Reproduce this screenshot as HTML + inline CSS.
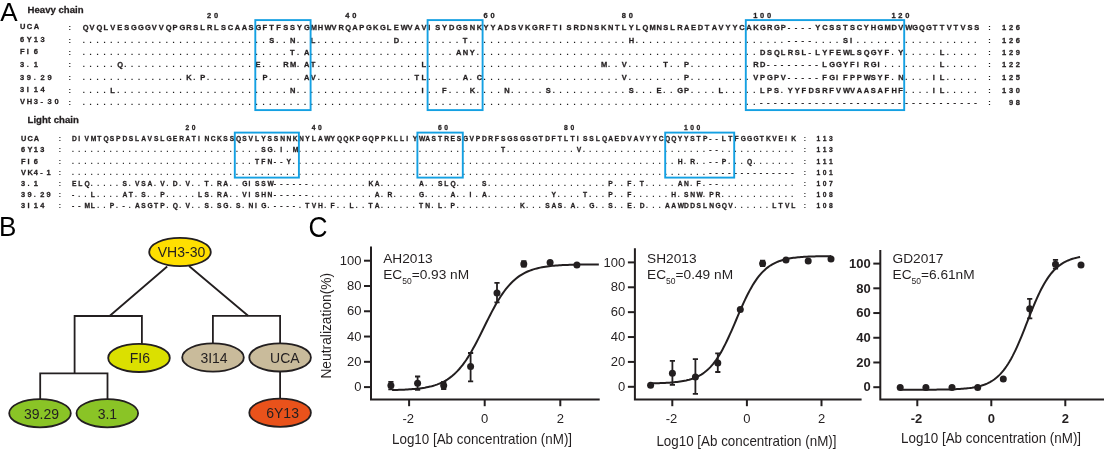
<!DOCTYPE html>
<html><head><meta charset="utf-8"><style>
html,body{margin:0;padding:0;background:#fff;overflow:hidden;}
svg{display:block;will-change:transform;font-family:"Liberation Sans",sans-serif;}
.d{fill:#1a1a1a;stroke:#1a1a1a;stroke-width:0.12;}
</style></head><body>
<svg width="1107" height="452" viewBox="0 0 1107 452">
<rect width="1107" height="452" fill="#fff"/>
<g font-weight="bold" fill="#231f20" stroke="#231f20" stroke-width="0.28">
<text x="207.12 214.03 345.36 352.27 483.6 490.51 621.84 628.75 753.16 760.08 766.99 891.4 898.32 905.23" y="18.4" font-size="7.5" transform="matrix(1 0 0 1.03 0 -0.552)">20406080100120</text>
<text x="82.7 89.61 96.52 103.44 110.35 117.26 124.17 131.08 138 144.91 151.82 158.73 165.64 172.56 179.47 186.38 193.29 200.2 207.12 214.03 220.94 227.85 234.76 241.68 248.59 255.5 262.41 269.32 276.24 283.15 290.06 296.97 303.88 310.8 317.71 324.62 331.53 338.44 345.36 352.27 359.18 366.09 373 379.92 386.83 393.74 400.65 407.56 414.48 421.39 428.3 435.21 442.12 449.04 455.95 462.86 469.77 476.68 483.6 490.51 497.42 504.33 511.24 518.16 525.07 531.98 538.89 545.8 552.72 559.63 566.54 573.45 580.36 587.28 594.19 601.1 608.01 614.92 621.84 628.75 635.66 642.57 649.48 656.4 663.31 670.22 677.13 684.04 690.96 697.87 704.78 711.69 718.6 725.52 732.43 739.34 746.25 753.16 760.08 766.99 773.9 780.81 787.72 794.64 801.55 808.46 815.37 822.28 829.2 836.11 843.02 849.93 856.84 863.76 870.67 877.58 884.49 891.4 898.32 905.23 912.14 919.05 925.96 932.88 939.79 946.7 953.61 960.52 967.44 974.35 1002 1008.91 1015.82" y="30.4" font-size="7.5" transform="matrix(1 0 0 1.03 0 -0.912)">QVQLVESGGGVVQPGRSLRLSCAASGFTFSSYGMHWVRQAPGKGLEWVAVISYDGSNKYYADSVKGRFTISRDNSKNTLYLQMNSLRAEDTAVYYCAKGRGP----YCSSTSCYHGMDVWGQGTTVTVSS126</text><text class="d" x="988.17" y="30.4" font-size="7.5" transform="matrix(1 0 0 1.03 0 -0.912)">:</text>
<text x="19.9 26.8 33.7" y="28.6" font-size="7.5">UCA</text>
<text class="d" x="68.6" y="30.4" font-size="7.5" transform="matrix(1 0 0 1.03 0 -0.912)">:</text>
<text x="269.32 290.06 310.8 393.74 462.86 628.75 787.72 794.64 801.55 808.46 843.02 849.93 1002 1008.91 1015.82" y="42.9" font-size="7.5" transform="matrix(1 0 0 1.03 0 -1.287)">SNLDTH----SI126</text><text class="d" x="82.7 89.61 96.52 103.44 110.35 117.26 124.17 131.08 138 144.91 151.82 158.73 165.64 172.56 179.47 186.38 193.29 200.2 207.12 214.03 220.94 227.85 234.76 241.68 248.59 255.5 262.41 276.24 283.15 296.97 303.88 317.71 324.62 331.53 338.44 345.36 352.27 359.18 366.09 373 379.92 386.83 400.65 407.56 414.48 421.39 428.3 435.21 442.12 449.04 455.95 469.77 476.68 483.6 490.51 497.42 504.33 511.24 518.16 525.07 531.98 538.89 545.8 552.72 559.63 566.54 573.45 580.36 587.28 594.19 601.1 608.01 614.92 621.84 635.66 642.57 649.48 656.4 663.31 670.22 677.13 684.04 690.96 697.87 704.78 711.69 718.6 725.52 732.43 739.34 746.25 753.16 760.08 766.99 773.9 780.81 815.37 822.28 829.2 836.11 856.84 863.76 870.67 877.58 884.49 891.4 898.32 905.23 912.14 919.05 925.96 932.88 939.79 946.7 953.61 960.52 967.44 974.35 988.17" y="42.9" font-size="7.5" transform="matrix(1 0 0 1.03 0 -1.287)">......................................................................................................................:</text>
<text x="19.9 26.8 33.7 40.6" y="41.6" font-size="7.5">6Y13</text>
<text class="d" x="68.6" y="42.9" font-size="7.5" transform="matrix(1 0 0 1.03 0 -1.287)">:</text>
<text x="290.06 303.88 455.95 462.86 469.77 760.08 766.99 773.9 780.81 787.72 794.64 801.55 808.46 815.37 822.28 829.2 836.11 843.02 849.93 856.84 863.76 870.67 877.58 884.49 898.32 939.79 1002 1008.91 1015.82" y="55.1" font-size="7.5" transform="matrix(1 0 0 1.03 0 -1.653)">TAANYDSQLRSL-LYFEWLSQGYFYL129</text><text class="d" x="82.7 89.61 96.52 103.44 110.35 117.26 124.17 131.08 138 144.91 151.82 158.73 165.64 172.56 179.47 186.38 193.29 200.2 207.12 214.03 220.94 227.85 234.76 241.68 248.59 255.5 262.41 269.32 276.24 283.15 296.97 310.8 317.71 324.62 331.53 338.44 345.36 352.27 359.18 366.09 373 379.92 386.83 393.74 400.65 407.56 414.48 421.39 428.3 435.21 442.12 449.04 476.68 483.6 490.51 497.42 504.33 511.24 518.16 525.07 531.98 538.89 545.8 552.72 559.63 566.54 573.45 580.36 587.28 594.19 601.1 608.01 614.92 621.84 628.75 635.66 642.57 649.48 656.4 663.31 670.22 677.13 684.04 690.96 697.87 704.78 711.69 718.6 725.52 732.43 739.34 746.25 753.16 891.4 905.23 912.14 919.05 925.96 932.88 946.7 953.61 960.52 967.44 974.35 988.17" y="55.1" font-size="7.5" transform="matrix(1 0 0 1.03 0 -1.653)">........................................................................................................:</text>
<text x="19.9 26.8 33.7" y="54.4" font-size="7.5">FI6</text>
<text class="d" x="68.6" y="55.1" font-size="7.5" transform="matrix(1 0 0 1.03 0 -1.653)">:</text>
<text x="117.26 255.5 283.15 290.06 303.88 310.8 421.39 601.1 621.84 663.31 684.04 753.16 760.08 766.99 773.9 780.81 787.72 794.64 801.55 808.46 815.37 822.28 829.2 836.11 843.02 849.93 856.84 863.76 870.67 877.58 939.79 1002 1008.91 1015.82" y="67.1" font-size="7.5" transform="matrix(1 0 0 1.03 0 -2.013)">QERMATLMVTPRD--------LGGYFIRGIL122</text><text class="d" x="82.7 89.61 96.52 103.44 110.35 124.17 131.08 138 144.91 151.82 158.73 165.64 172.56 179.47 186.38 193.29 200.2 207.12 214.03 220.94 227.85 234.76 241.68 248.59 262.41 269.32 276.24 296.97 317.71 324.62 331.53 338.44 345.36 352.27 359.18 366.09 373 379.92 386.83 393.74 400.65 407.56 414.48 428.3 435.21 442.12 449.04 455.95 462.86 469.77 476.68 483.6 490.51 497.42 504.33 511.24 518.16 525.07 531.98 538.89 545.8 552.72 559.63 566.54 573.45 580.36 587.28 594.19 608.01 614.92 628.75 635.66 642.57 649.48 656.4 670.22 677.13 690.96 697.87 704.78 711.69 718.6 725.52 732.43 739.34 746.25 884.49 891.4 898.32 905.23 912.14 919.05 925.96 932.88 946.7 953.61 960.52 967.44 974.35 988.17" y="67.1" font-size="7.5" transform="matrix(1 0 0 1.03 0 -2.013)">...................................................................................................:</text>
<text x="19.9 33.7" y="67.2" font-size="7.5">31</text><text class="d" x="26.8" y="67.2" font-size="7.5">.</text>
<text class="d" x="68.6" y="67.1" font-size="7.5" transform="matrix(1 0 0 1.03 0 -2.013)">:</text>
<text x="186.38 200.2 262.41 303.88 310.8 414.48 421.39 462.86 476.68 621.84 684.04 753.16 760.08 766.99 773.9 780.81 787.72 794.64 801.55 808.46 815.37 822.28 829.2 836.11 843.02 849.93 856.84 863.76 870.67 877.58 884.49 898.32 932.88 939.79 1002 1008.91 1015.82" y="80" font-size="7.5" transform="matrix(1 0 0 1.03 0 -2.400)">KPPAVTLACVPVPGPV-----FGIFPPWSYFNIL125</text><text class="d" x="82.7 89.61 96.52 103.44 110.35 117.26 124.17 131.08 138 144.91 151.82 158.73 165.64 172.56 179.47 193.29 207.12 214.03 220.94 227.85 234.76 241.68 248.59 255.5 269.32 276.24 283.15 290.06 296.97 317.71 324.62 331.53 338.44 345.36 352.27 359.18 366.09 373 379.92 386.83 393.74 400.65 407.56 428.3 435.21 442.12 449.04 455.95 469.77 483.6 490.51 497.42 504.33 511.24 518.16 525.07 531.98 538.89 545.8 552.72 559.63 566.54 573.45 580.36 587.28 594.19 601.1 608.01 614.92 628.75 635.66 642.57 649.48 656.4 663.31 670.22 677.13 690.96 697.87 704.78 711.69 718.6 725.52 732.43 739.34 746.25 891.4 905.23 912.14 919.05 925.96 946.7 953.61 960.52 967.44 974.35 988.17" y="80" font-size="7.5" transform="matrix(1 0 0 1.03 0 -2.400)">................................................................................................:</text>
<text x="19.9 26.8 40.6 47.5" y="79.8" font-size="7.5">3929</text><text class="d" x="33.7" y="79.8" font-size="7.5">.</text>
<text class="d" x="68.6" y="80" font-size="7.5" transform="matrix(1 0 0 1.03 0 -2.400)">:</text>
<text x="110.35 290.06 421.39 442.12 469.77 504.33 545.8 628.75 656.4 677.13 684.04 718.6 760.08 766.99 773.9 787.72 794.64 801.55 808.46 815.37 822.28 829.2 836.11 843.02 849.93 856.84 863.76 870.67 877.58 884.49 891.4 898.32 932.88 939.79 1002 1008.91 1015.82" y="92.7" font-size="7.5" transform="matrix(1 0 0 1.03 0 -2.781)">LNIFKNSSEGPLLPSYYFDSRFVWVAASAFHFIL130</text><text class="d" x="82.7 89.61 96.52 103.44 117.26 124.17 131.08 138 144.91 151.82 158.73 165.64 172.56 179.47 186.38 193.29 200.2 207.12 214.03 220.94 227.85 234.76 241.68 248.59 255.5 262.41 269.32 276.24 283.15 296.97 303.88 310.8 317.71 324.62 331.53 338.44 345.36 352.27 359.18 366.09 373 379.92 386.83 393.74 400.65 407.56 414.48 428.3 435.21 449.04 455.95 462.86 476.68 483.6 490.51 497.42 511.24 518.16 525.07 531.98 538.89 552.72 559.63 566.54 573.45 580.36 587.28 594.19 601.1 608.01 614.92 621.84 635.66 642.57 649.48 663.31 670.22 690.96 697.87 704.78 711.69 725.52 732.43 739.34 746.25 753.16 780.81 905.23 912.14 919.05 925.96 946.7 953.61 960.52 967.44 974.35 988.17" y="92.7" font-size="7.5" transform="matrix(1 0 0 1.03 0 -2.781)">................................................................................................:</text>
<text x="19.9 26.8 33.7 40.6" y="91.8" font-size="7.5">3I14</text>
<text class="d" x="68.6" y="92.7" font-size="7.5" transform="matrix(1 0 0 1.03 0 -2.781)">:</text>
<text x="760.08 766.99 773.9 780.81 787.72 794.64 801.55 808.46 815.37 822.28 829.2 836.11 843.02 849.93 856.84 863.76 870.67 877.58 884.49 891.4 898.32 905.23 912.14 919.05 925.96 932.88 939.79 946.7 953.61 960.52 967.44 974.35 1008.91 1015.82" y="104.7" font-size="7.5" transform="matrix(1 0 0 1.03 0 -3.141)">--------------------------------98</text><text class="d" x="82.7 89.61 96.52 103.44 110.35 117.26 124.17 131.08 138 144.91 151.82 158.73 165.64 172.56 179.47 186.38 193.29 200.2 207.12 214.03 220.94 227.85 234.76 241.68 248.59 255.5 262.41 269.32 276.24 283.15 290.06 296.97 303.88 310.8 317.71 324.62 331.53 338.44 345.36 352.27 359.18 366.09 373 379.92 386.83 393.74 400.65 407.56 414.48 421.39 428.3 435.21 442.12 449.04 455.95 462.86 469.77 476.68 483.6 490.51 497.42 504.33 511.24 518.16 525.07 531.98 538.89 545.8 552.72 559.63 566.54 573.45 580.36 587.28 594.19 601.1 608.01 614.92 621.84 628.75 635.66 642.57 649.48 656.4 663.31 670.22 677.13 684.04 690.96 697.87 704.78 711.69 718.6 725.52 732.43 739.34 746.25 753.16 988.17" y="104.7" font-size="7.5" transform="matrix(1 0 0 1.03 0 -3.141)">..................................................................................................:</text>
<text x="19.9 26.8 33.7 40.6 47.5 54.4" y="104.4" font-size="7.5">VH3-30</text>
<text class="d" x="68.6" y="104.7" font-size="7.5" transform="matrix(1 0 0 1.03 0 -3.141)">:</text>
<text x="185.48 191.79 311.68 317.99 437.88 444.19 564.08 570.39 683.97 690.28 696.59" y="130.2" font-size="6.7">20406080100</text>
<text x="71.9 78.21 84.52 90.83 97.14 103.45 109.76 116.07 122.38 128.69 135 141.31 147.62 153.93 160.24 166.55 172.86 179.17 185.48 191.79 198.1 204.41 210.72 217.03 223.34 229.65 235.96 242.27 248.58 254.89 261.2 267.51 273.82 280.13 286.44 292.75 299.06 305.37 311.68 317.99 324.3 330.61 336.92 343.23 349.54 355.85 362.16 368.47 374.78 381.09 387.4 393.71 400.02 406.33 412.64 418.95 425.26 431.57 437.88 444.19 450.5 456.81 463.12 469.43 475.74 482.05 488.36 494.67 500.98 507.29 513.6 519.91 526.22 532.53 538.84 545.15 551.46 557.77 564.08 570.39 576.7 583.01 589.32 595.63 601.94 608.25 614.56 620.87 627.18 633.49 639.8 646.11 652.42 658.73 665.04 671.35 677.66 683.97 690.28 696.59 702.9 709.21 715.52 721.83 728.14 734.45 740.76 747.07 753.38 759.69 766 772.31 778.62 784.93 791.24 816.48 822.79 829.1" y="141.3" font-size="6.7">DIVMTQSPDSLAVSLGERATINCKSSQSVLYSSNNKNYLAWYQQKPGQPPKLLIYWASTRESGVPDRFSGSGSGTDFTLTISSLQAEDVAVYYCQQYYSTP--LTFGGGTKVEIK113</text><text class="d" x="803.86" y="141.3" font-size="6.7">:</text>
<text x="21 27.4 33.8" y="141.2" font-size="7.4" transform="matrix(1 0 0 1.02 0 -2.824)">UCA</text>
<text class="d" x="58.8" y="141.3" font-size="6.7">:</text>
<text x="261.2 267.51 280.13 292.75 500.98 576.7 709.21 715.52 816.48 822.79 829.1" y="152" font-size="6.7">SGIMTV--113</text><text class="d" x="71.9 78.21 84.52 90.83 97.14 103.45 109.76 116.07 122.38 128.69 135 141.31 147.62 153.93 160.24 166.55 172.86 179.17 185.48 191.79 198.1 204.41 210.72 217.03 223.34 229.65 235.96 242.27 248.58 254.89 273.82 286.44 299.06 305.37 311.68 317.99 324.3 330.61 336.92 343.23 349.54 355.85 362.16 368.47 374.78 381.09 387.4 393.71 400.02 406.33 412.64 418.95 425.26 431.57 437.88 444.19 450.5 456.81 463.12 469.43 475.74 482.05 488.36 494.67 507.29 513.6 519.91 526.22 532.53 538.84 545.15 551.46 557.77 564.08 570.39 583.01 589.32 595.63 601.94 608.25 614.56 620.87 627.18 633.49 639.8 646.11 652.42 658.73 665.04 671.35 677.66 683.97 690.28 696.59 702.9 721.83 728.14 734.45 740.76 747.07 753.38 759.69 766 772.31 778.62 784.93 791.24 803.86" y="152" font-size="6.7">...........................................................................................................:</text>
<text x="21 27.4 33.8 40.2" y="152" font-size="7.4" transform="matrix(1 0 0 1.02 0 -3.040)">6Y13</text>
<text class="d" x="58.8" y="152" font-size="6.7">:</text>
<text x="254.89 261.2 267.51 273.82 280.13 286.44 677.66 690.28 709.21 715.52 721.83 747.07 816.48 822.79 829.1" y="163.5" font-size="6.7">TFN--YHR--PQ111</text><text class="d" x="71.9 78.21 84.52 90.83 97.14 103.45 109.76 116.07 122.38 128.69 135 141.31 147.62 153.93 160.24 166.55 172.86 179.17 185.48 191.79 198.1 204.41 210.72 217.03 223.34 229.65 235.96 242.27 248.58 292.75 299.06 305.37 311.68 317.99 324.3 330.61 336.92 343.23 349.54 355.85 362.16 368.47 374.78 381.09 387.4 393.71 400.02 406.33 412.64 418.95 425.26 431.57 437.88 444.19 450.5 456.81 463.12 469.43 475.74 482.05 488.36 494.67 500.98 507.29 513.6 519.91 526.22 532.53 538.84 545.15 551.46 557.77 564.08 570.39 576.7 583.01 589.32 595.63 601.94 608.25 614.56 620.87 627.18 633.49 639.8 646.11 652.42 658.73 665.04 671.35 683.97 696.59 702.9 728.14 734.45 740.76 753.38 759.69 766 772.31 778.62 784.93 791.24 803.86" y="163.5" font-size="6.7">.......................................................................................................:</text>
<text x="21 27.4 33.8" y="163.6" font-size="7.4" transform="matrix(1 0 0 1.02 0 -3.272)">FI6</text>
<text class="d" x="58.8" y="163.5" font-size="6.7">:</text>
<text x="709.21 715.52 721.83 728.14 734.45 740.76 747.07 753.38 759.69 766 772.31 778.62 784.93 791.24 816.48 822.79 829.1" y="174.6" font-size="6.7">--------------101</text><text class="d" x="71.9 78.21 84.52 90.83 97.14 103.45 109.76 116.07 122.38 128.69 135 141.31 147.62 153.93 160.24 166.55 172.86 179.17 185.48 191.79 198.1 204.41 210.72 217.03 223.34 229.65 235.96 242.27 248.58 254.89 261.2 267.51 273.82 280.13 286.44 292.75 299.06 305.37 311.68 317.99 324.3 330.61 336.92 343.23 349.54 355.85 362.16 368.47 374.78 381.09 387.4 393.71 400.02 406.33 412.64 418.95 425.26 431.57 437.88 444.19 450.5 456.81 463.12 469.43 475.74 482.05 488.36 494.67 500.98 507.29 513.6 519.91 526.22 532.53 538.84 545.15 551.46 557.77 564.08 570.39 576.7 583.01 589.32 595.63 601.94 608.25 614.56 620.87 627.18 633.49 639.8 646.11 652.42 658.73 665.04 671.35 677.66 683.97 690.28 696.59 702.9 803.86" y="174.6" font-size="6.7">.....................................................................................................:</text>
<text x="21 27.4 33.8 40.2 46.6" y="174.9" font-size="7.4" transform="matrix(1 0 0 1.02 0 -3.498)">VK4-1</text>
<text class="d" x="58.8" y="174.6" font-size="6.7">:</text>
<text x="71.9 78.21 84.52 122.38 135 141.31 147.62 160.24 172.86 185.48 204.41 217.03 223.34 242.27 248.58 254.89 261.2 267.51 273.82 280.13 286.44 292.75 299.06 305.37 368.47 374.78 418.95 437.88 444.19 450.5 482.05 608.25 627.18 639.8 677.66 683.97 696.59 709.21 715.52 816.48 822.79 829.1" y="185.8" font-size="6.7">ELQSVSAVDVTRAGISSW------KAASLQSPFTANF--107</text><text class="d" x="90.83 97.14 103.45 109.76 116.07 128.69 153.93 166.55 179.17 191.79 198.1 210.72 229.65 235.96 311.68 317.99 324.3 330.61 336.92 343.23 349.54 355.85 362.16 381.09 387.4 393.71 400.02 406.33 412.64 425.26 431.57 456.81 463.12 469.43 475.74 488.36 494.67 500.98 507.29 513.6 519.91 526.22 532.53 538.84 545.15 551.46 557.77 564.08 570.39 576.7 583.01 589.32 595.63 601.94 614.56 620.87 633.49 646.11 652.42 658.73 665.04 671.35 690.28 702.9 721.83 728.14 734.45 740.76 747.07 753.38 759.69 766 772.31 778.62 784.93 791.24 803.86" y="185.8" font-size="6.7">............................................................................:</text>
<text x="21 33.8" y="186.1" font-size="7.4" transform="matrix(1 0 0 1.02 0 -3.722)">31</text><text class="d" x="27.4" y="186.1" font-size="7.4" transform="matrix(1 0 0 1.02 0 -3.722)">.</text>
<text class="d" x="58.8" y="185.8" font-size="6.7">:</text>
<text x="71.9 90.83 122.38 128.69 141.31 160.24 198.1 204.41 217.03 223.34 242.27 248.58 254.89 261.2 267.51 273.82 280.13 286.44 292.75 299.06 305.37 374.78 387.4 418.95 450.5 469.43 482.05 551.46 583.01 608.25 627.18 671.35 683.97 690.28 696.59 709.21 715.52 816.48 822.79 829.1" y="197" font-size="6.7">-LATSPLSRAVISHN------ARGAIAYTPFHSNWPR108</text><text class="d" x="78.21 84.52 97.14 103.45 109.76 116.07 135 147.62 153.93 166.55 172.86 179.17 185.48 191.79 210.72 229.65 235.96 311.68 317.99 324.3 330.61 336.92 343.23 349.54 355.85 362.16 368.47 381.09 393.71 400.02 406.33 412.64 425.26 431.57 437.88 444.19 456.81 463.12 475.74 488.36 494.67 500.98 507.29 513.6 519.91 526.22 532.53 538.84 545.15 557.77 564.08 570.39 576.7 589.32 595.63 601.94 614.56 620.87 633.49 639.8 646.11 652.42 658.73 665.04 677.66 702.9 721.83 728.14 734.45 740.76 747.07 753.38 759.69 766 772.31 778.62 784.93 791.24 803.86" y="197" font-size="6.7">..............................................................................:</text>
<text x="21 27.4 40.2 46.6" y="197.4" font-size="7.4" transform="matrix(1 0 0 1.02 0 -3.948)">3929</text><text class="d" x="33.8" y="197.4" font-size="7.4" transform="matrix(1 0 0 1.02 0 -3.948)">.</text>
<text class="d" x="58.8" y="197" font-size="6.7">:</text>
<text x="71.9 78.21 84.52 90.83 109.76 122.38 135 141.31 147.62 153.93 160.24 172.86 185.48 204.41 217.03 223.34 235.96 248.58 254.89 261.2 273.82 280.13 286.44 292.75 305.37 311.68 317.99 330.61 349.54 368.47 374.78 418.95 425.26 437.88 450.5 519.91 545.15 551.46 557.77 570.39 589.32 608.25 627.18 639.8 665.04 671.35 677.66 683.97 690.28 696.59 702.9 709.21 715.52 721.83 728.14 772.31 778.62 784.93 791.24 816.48 822.79 829.1" y="208.2" font-size="6.7">--MLP-ASGTPQVSSGSNIG----TVHFLTATNLPKSASAGSEDAAWDDSLNGQVLTVL108</text><text class="d" x="97.14 103.45 116.07 128.69 166.55 179.17 191.79 198.1 210.72 229.65 242.27 267.51 299.06 324.3 336.92 343.23 355.85 362.16 381.09 387.4 393.71 400.02 406.33 412.64 431.57 444.19 456.81 463.12 469.43 475.74 482.05 488.36 494.67 500.98 507.29 513.6 526.22 532.53 538.84 564.08 576.7 583.01 595.63 601.94 614.56 620.87 633.49 646.11 652.42 658.73 734.45 740.76 747.07 753.38 759.69 766 803.86" y="208.2" font-size="6.7">........................................................:</text>
<text x="21 27.4 33.8 40.2" y="208.5" font-size="7.4" transform="matrix(1 0 0 1.02 0 -4.170)">3I14</text>
<text class="d" x="58.8" y="208.2" font-size="6.7">:</text>
<text x="27.6" y="13.5" font-size="9.6" transform="matrix(1 0 0 1.02 0 -0.27)">Heavy chain</text>
<text x="27.6" y="122.8" font-size="9.6" transform="matrix(1 0 0 1.02 0 -2.456)">Light chain</text>
</g>
<rect x="255.3" y="20.1" width="55.3" height="90" fill="none" stroke="#14a0e2" stroke-width="1.9"/>
<rect x="427.6" y="20.1" width="55" height="90" fill="none" stroke="#14a0e2" stroke-width="1.9"/>
<rect x="745.8" y="20.1" width="158.4" height="90" fill="none" stroke="#14a0e2" stroke-width="1.9"/>
<rect x="234.8" y="132.6" width="64.1" height="45" fill="none" stroke="#14a0e2" stroke-width="1.9"/>
<rect x="417.4" y="132.6" width="45.4" height="45" fill="none" stroke="#14a0e2" stroke-width="1.9"/>
<rect x="665.2" y="132.6" width="69" height="45" fill="none" stroke="#14a0e2" stroke-width="1.9"/>
<text x="0.3" y="21" font-size="26" fill="#000">A</text>
<g>
<text x="-1" y="236.1" font-size="26" fill="#000" transform="matrix(1 0 0 1.04 0 -9.444)">B</text>
<path d="M167.2 266.5 L109.6 316 M189 266 L248.1 315.7" stroke="#231f20" stroke-width="1.8" fill="none"/>
<path d="M74.6 373.5 V316 H141.9 V344" stroke="#231f20" stroke-width="1.8" fill="none"/>
<path d="M40.2 399 V373.4 H107.5 V399" stroke="#231f20" stroke-width="1.8" fill="none"/>
<path d="M212.9 343.5 V315.8 H280.1 V343.5 M280.1 371 V399" stroke="#231f20" stroke-width="1.8" fill="none"/>
<ellipse cx="180" cy="252" rx="30.8" ry="14.1" fill="#ffdf00" stroke="#231f20" stroke-width="1.8"/><text x="181.5" y="256.8" font-size="14" text-anchor="middle" fill="#231f20">VH3-30</text>
<ellipse cx="139" cy="357.9" rx="30.8" ry="14.1" fill="#dbe000" stroke="#231f20" stroke-width="1.8"/><text x="139.9" y="363.1" font-size="14" text-anchor="middle" fill="#231f20">FI6</text>
<ellipse cx="213" cy="357.5" rx="30.8" ry="14.1" fill="#c9bb9b" stroke="#231f20" stroke-width="1.8"/><text x="214" y="363.1" font-size="14" text-anchor="middle" fill="#231f20">3I14</text>
<ellipse cx="280.1" cy="357.4" rx="30.8" ry="14.1" fill="#c9bb9b" stroke="#231f20" stroke-width="1.8"/><text x="284.9" y="363.2" font-size="14" text-anchor="middle" fill="#231f20">UCA</text>
<ellipse cx="40" cy="413.2" rx="30.8" ry="14.1" fill="#8ac426" stroke="#231f20" stroke-width="1.8"/><text x="41.5" y="418.5" font-size="14" text-anchor="middle" fill="#231f20">39.29</text>
<ellipse cx="107.3" cy="413.2" rx="30.8" ry="14.1" fill="#8ac426" stroke="#231f20" stroke-width="1.8"/><text x="107.4" y="418.5" font-size="14" text-anchor="middle" fill="#231f20">3.1</text>
<ellipse cx="280.1" cy="412.7" rx="30.8" ry="14.1" fill="#e9521b" stroke="#231f20" stroke-width="1.8"/><text x="282.6" y="418.4" font-size="14" text-anchor="middle" fill="#231f20">6Y13</text>
</g>
<g fill="#231f20">
<text x="308.6" y="236.6" font-size="26.3" fill="#000" transform="matrix(1 0 0 1.13 0 -30.758)">C</text>
<path d="M371 247.6 V399.6 H598.7" stroke="#231f20" stroke-width="2.0" fill="none" stroke-linecap="square"/>
<path d="M364 387.1 H371" stroke="#231f20" stroke-width="2.0" fill="none"/>
<text x="361.4" y="391.3" font-size="13" text-anchor="end">0</text>
<path d="M364 361.82 H371" stroke="#231f20" stroke-width="2.0" fill="none"/>
<text x="361.4" y="366.02" font-size="13" text-anchor="end">20</text>
<path d="M364 336.54 H371" stroke="#231f20" stroke-width="2.0" fill="none"/>
<text x="361.4" y="340.74" font-size="13" text-anchor="end">40</text>
<path d="M364 311.26 H371" stroke="#231f20" stroke-width="2.0" fill="none"/>
<text x="361.4" y="315.46" font-size="13" text-anchor="end">60</text>
<path d="M364 285.98 H371" stroke="#231f20" stroke-width="2.0" fill="none"/>
<text x="361.4" y="290.18" font-size="13" text-anchor="end">80</text>
<path d="M364 260.7 H371" stroke="#231f20" stroke-width="2.0" fill="none"/>
<text x="361.4" y="264.9" font-size="13" text-anchor="end">100</text>
<path d="M409.1 399.6 V406.2" stroke="#231f20" stroke-width="2.0" fill="none"/>
<text x="408.3" y="422.9" font-size="13" text-anchor="middle">-2</text>
<path d="M484.7 399.6 V406.2" stroke="#231f20" stroke-width="2.0" fill="none"/>
<text x="484.7" y="422.9" font-size="13" text-anchor="middle">0</text>
<path d="M560.3 399.6 V406.2" stroke="#231f20" stroke-width="2.0" fill="none"/>
<text x="560.3" y="422.9" font-size="13" text-anchor="middle">2</text>
<text x="392" y="443.8" font-size="13.4" transform="matrix(1 0 0 1.04 0 -17.752)">Log10 [Ab concentration (nM)]</text>
<path d="M392.09 390.05 L393.81 390.01 L395.54 389.97 L397.26 389.92 L398.98 389.86 L400.71 389.8 L402.43 389.73 L404.15 389.65 L405.87 389.57 L407.6 389.47 L409.32 389.37 L411.04 389.25 L412.77 389.11 L414.49 388.96 L416.21 388.8 L417.94 388.62 L419.66 388.41 L421.38 388.18 L423.1 387.93 L424.83 387.65 L426.55 387.33 L428.27 386.98 L430 386.6 L431.72 386.17 L433.44 385.69 L435.17 385.16 L436.89 384.58 L438.61 383.93 L440.34 383.22 L442.06 382.43 L443.78 381.56 L445.5 380.61 L447.23 379.56 L448.95 378.41 L450.67 377.15 L452.4 375.78 L454.12 374.29 L455.84 372.66 L457.57 370.91 L459.29 369.01 L461.01 366.97 L462.74 364.78 L464.46 362.45 L466.18 359.96 L467.9 357.33 L469.63 354.56 L471.35 351.65 L473.07 348.61 L474.8 345.46 L476.52 342.21 L478.24 338.87 L479.97 335.46 L481.69 332 L483.41 328.52 L485.13 325.03 L486.86 321.55 L488.58 318.11 L490.3 314.72 L492.03 311.41 L493.75 308.19 L495.47 305.07 L497.2 302.08 L498.92 299.21 L500.64 296.49 L502.37 293.9 L504.09 291.47 L505.81 289.18 L507.53 287.05 L509.26 285.06 L510.98 283.21 L512.7 281.5 L514.43 279.92 L516.15 278.47 L517.87 277.13 L519.6 275.91 L521.32 274.8 L523.04 273.78 L524.76 272.86 L526.49 272.02 L528.21 271.26 L529.93 270.57 L531.66 269.94 L533.38 269.38 L535.1 268.87 L536.83 268.41 L538.55 267.99 L540.27 267.62 L542 267.28 L543.72 266.98 L545.44 266.7 L547.16 266.46 L548.89 266.24 L550.61 266.04 L552.33 265.87 L554.06 265.71 L555.78 265.56 L557.5 265.44 L559.23 265.32 L560.95 265.22 L562.67 265.12 L564.39 265.04 L566.12 264.97 L567.84 264.9 L569.56 264.84 L571.29 264.79 L573.01 264.74 L574.73 264.7 L576.46 264.66 L578.18 264.63 L579.9 264.59 L581.63 264.57 L583.35 264.54 L585.07 264.52 L586.79 264.5 L588.52 264.48 L590.24 264.47 L591.96 264.45 L593.69 264.44 L595.41 264.43 L597.13 264.42 L598.86 264.41" stroke="#231f20" stroke-width="2" fill="none"/>
<path d="M390.9 381.8 V389.4 M388.3 381.8 H393.5 M388.3 389.4 H393.5" stroke="#231f20" stroke-width="1.8"/>
<circle cx="390.9" cy="385.4" r="3.5" fill="#231f20"/>
<path d="M417.6 376.5 V389.8 M415 376.5 H420.2 M415 389.8 H420.2" stroke="#231f20" stroke-width="1.8"/>
<circle cx="417.6" cy="383.2" r="3.5" fill="#231f20"/>
<path d="M443.7 382 V389 M441.1 382 H446.3 M441.1 389 H446.3" stroke="#231f20" stroke-width="1.8"/>
<circle cx="443.7" cy="385.4" r="3.5" fill="#231f20"/>
<path d="M470.6 353 V381.4 M468 353 H473.2 M468 381.4 H473.2" stroke="#231f20" stroke-width="1.8"/>
<circle cx="470.6" cy="366.6" r="3.5" fill="#231f20"/>
<path d="M497 282.9 V302.3 M494.4 282.9 H499.6 M494.4 302.3 H499.6" stroke="#231f20" stroke-width="1.8"/>
<circle cx="497" cy="293.1" r="3.5" fill="#231f20"/>
<path d="M523.8 261.2 V266.6 M521.2 261.2 H526.4 M521.2 266.6 H526.4" stroke="#231f20" stroke-width="1.8"/>
<circle cx="523.8" cy="263.9" r="3.5" fill="#231f20"/>
<circle cx="550.1" cy="262.4" r="3.5" fill="#231f20"/>
<circle cx="576.9" cy="265.1" r="3.5" fill="#231f20"/>
<text x="383.2" y="262.5" font-size="13.7">AH2013</text>
<text x="383.2" y="279.3" font-size="13.7">EC<tspan font-size="8.5" dy="4.6">50</tspan><tspan dy="-4.6">=0.93 nM</tspan></text>
<text transform="translate(330.7 378.6) rotate(-90)" font-size="13.8">Neutralization(%)</text>
<path d="M634.9 249.3 V399.6 H860.6" stroke="#231f20" stroke-width="2.0" fill="none" stroke-linecap="square"/>
<path d="M627.9 386.8 H634.9" stroke="#231f20" stroke-width="2.0" fill="none"/>
<text x="625.3" y="391" font-size="13" text-anchor="end">0</text>
<path d="M627.9 361.92 H634.9" stroke="#231f20" stroke-width="2.0" fill="none"/>
<text x="625.3" y="366.12" font-size="13" text-anchor="end">20</text>
<path d="M627.9 337.04 H634.9" stroke="#231f20" stroke-width="2.0" fill="none"/>
<text x="625.3" y="341.24" font-size="13" text-anchor="end">40</text>
<path d="M627.9 312.16 H634.9" stroke="#231f20" stroke-width="2.0" fill="none"/>
<text x="625.3" y="316.36" font-size="13" text-anchor="end">60</text>
<path d="M627.9 287.28 H634.9" stroke="#231f20" stroke-width="2.0" fill="none"/>
<text x="625.3" y="291.48" font-size="13" text-anchor="end">80</text>
<path d="M627.9 262.4 H634.9" stroke="#231f20" stroke-width="2.0" fill="none"/>
<text x="625.3" y="266.6" font-size="13" text-anchor="end">100</text>
<path d="M672.3 399.6 V406.2" stroke="#231f20" stroke-width="2.0" fill="none"/>
<text x="671.5" y="422.9" font-size="13" text-anchor="middle">-2</text>
<path d="M746.9 399.6 V406.2" stroke="#231f20" stroke-width="2.0" fill="none"/>
<text x="746.9" y="422.9" font-size="13" text-anchor="middle">0</text>
<path d="M821.5 399.6 V406.2" stroke="#231f20" stroke-width="2.0" fill="none"/>
<text x="821.5" y="422.9" font-size="13" text-anchor="middle">2</text>
<text x="656.4" y="445.7" font-size="13.4" transform="matrix(1 0 0 1.04 0 -17.828)">Log10 [Ab concentration (nM)]</text>
<path d="M649.92 383.34 L651.43 383.31 L652.94 383.28 L654.45 383.25 L655.96 383.21 L657.47 383.17 L658.98 383.13 L660.49 383.08 L662.01 383.02 L663.52 382.96 L665.03 382.89 L666.54 382.81 L668.05 382.72 L669.56 382.63 L671.07 382.52 L672.58 382.4 L674.09 382.26 L675.6 382.11 L677.11 381.94 L678.62 381.76 L680.13 381.55 L681.64 381.32 L683.15 381.06 L684.66 380.77 L686.18 380.45 L687.69 380.09 L689.2 379.7 L690.71 379.26 L692.22 378.77 L693.73 378.23 L695.24 377.63 L696.75 376.97 L698.26 376.24 L699.77 375.43 L701.28 374.54 L702.79 373.56 L704.3 372.49 L705.81 371.31 L707.32 370.02 L708.84 368.61 L710.35 367.08 L711.86 365.41 L713.37 363.61 L714.88 361.66 L716.39 359.57 L717.9 357.32 L719.41 354.93 L720.92 352.38 L722.43 349.68 L723.94 346.84 L725.45 343.86 L726.96 340.76 L728.47 337.53 L729.98 334.21 L731.5 330.8 L733.01 327.33 L734.52 323.81 L736.03 320.26 L737.54 316.71 L739.05 313.18 L740.56 309.69 L742.07 306.27 L743.58 302.92 L745.09 299.67 L746.6 296.53 L748.11 293.51 L749.62 290.63 L751.13 287.9 L752.64 285.31 L754.15 282.87 L755.67 280.58 L757.18 278.45 L758.69 276.46 L760.2 274.62 L761.71 272.92 L763.22 271.35 L764.73 269.91 L766.24 268.59 L767.75 267.38 L769.26 266.28 L770.77 265.27 L772.28 264.36 L773.79 263.53 L775.3 262.78 L776.81 262.1 L778.33 261.48 L779.84 260.93 L781.35 260.43 L782.86 259.98 L784.37 259.57 L785.88 259.2 L787.39 258.87 L788.9 258.58 L790.41 258.31 L791.92 258.07 L793.43 257.85 L794.94 257.66 L796.45 257.49 L797.96 257.33 L799.47 257.19 L800.99 257.07 L802.5 256.96 L804.01 256.86 L805.52 256.77 L807.03 256.69 L808.54 256.61 L810.05 256.55 L811.56 256.49 L813.07 256.44 L814.58 256.39 L816.09 256.35 L817.6 256.32 L819.11 256.28 L820.62 256.25 L822.13 256.23 L823.64 256.2 L825.16 256.18 L826.67 256.16 L828.18 256.14 L829.69 256.13 L831.2 256.12" stroke="#231f20" stroke-width="2" fill="none"/>
<circle cx="650.6" cy="385.3" r="3.5" fill="#231f20"/>
<path d="M672.4 360.8 V384.8 M669.8 360.8 H675 M669.8 384.8 H675" stroke="#231f20" stroke-width="1.8"/>
<circle cx="672.4" cy="373.2" r="3.5" fill="#231f20"/>
<path d="M695.4 359.1 V393.8 M692.8 359.1 H698 M692.8 393.8 H698" stroke="#231f20" stroke-width="1.8"/>
<circle cx="695.4" cy="377" r="3.5" fill="#231f20"/>
<path d="M717.8 353.4 V372 M715.2 353.4 H720.4 M715.2 372 H720.4" stroke="#231f20" stroke-width="1.8"/>
<circle cx="717.8" cy="363" r="3.5" fill="#231f20"/>
<circle cx="740.3" cy="309.5" r="3.5" fill="#231f20"/>
<path d="M762.6 260.6 V266.2 M760 260.6 H765.2 M760 266.2 H765.2" stroke="#231f20" stroke-width="1.8"/>
<circle cx="762.6" cy="263.4" r="3.5" fill="#231f20"/>
<circle cx="786" cy="259.9" r="3.5" fill="#231f20"/>
<circle cx="808.2" cy="261.1" r="3.5" fill="#231f20"/>
<circle cx="831" cy="259" r="3.5" fill="#231f20"/>
<text x="647.1" y="262.5" font-size="13.7">SH2013</text>
<text x="647.1" y="279.3" font-size="13.7">EC<tspan font-size="8.5" dy="4.6">50</tspan><tspan dy="-4.6">=0.49 nM</tspan></text>
<path d="M880.3 251.1 V399.6 H1103" stroke="#231f20" stroke-width="2.0" fill="none" stroke-linecap="square"/>
<path d="M873.3 387.2 H880.3" stroke="#231f20" stroke-width="2.0" fill="none"/>
<text x="870.7" y="391.4" font-size="13" text-anchor="end" font-weight="bold">0</text>
<path d="M873.3 362.48 H880.3" stroke="#231f20" stroke-width="2.0" fill="none"/>
<text x="870.7" y="366.68" font-size="13" text-anchor="end" font-weight="bold">20</text>
<path d="M873.3 337.76 H880.3" stroke="#231f20" stroke-width="2.0" fill="none"/>
<text x="870.7" y="341.96" font-size="13" text-anchor="end" font-weight="bold">40</text>
<path d="M873.3 313.04 H880.3" stroke="#231f20" stroke-width="2.0" fill="none"/>
<text x="870.7" y="317.24" font-size="13" text-anchor="end" font-weight="bold">60</text>
<path d="M873.3 288.32 H880.3" stroke="#231f20" stroke-width="2.0" fill="none"/>
<text x="870.7" y="292.52" font-size="13" text-anchor="end" font-weight="bold">80</text>
<path d="M873.3 263.6 H880.3" stroke="#231f20" stroke-width="2.0" fill="none"/>
<text x="870.7" y="267.8" font-size="13" text-anchor="end" font-weight="bold">100</text>
<path d="M917.3 399.6 V406.2" stroke="#231f20" stroke-width="2.0" fill="none"/>
<text x="916.5" y="422.9" font-size="13" text-anchor="middle" font-weight="bold">-2</text>
<path d="M991.3 399.6 V406.2" stroke="#231f20" stroke-width="2.0" fill="none"/>
<text x="991.3" y="422.9" font-size="13" text-anchor="middle" font-weight="bold">0</text>
<path d="M1065.3 399.6 V406.2" stroke="#231f20" stroke-width="2.0" fill="none"/>
<text x="1065.3" y="422.9" font-size="13" text-anchor="middle" font-weight="bold">2</text>
<text x="901" y="442.6" font-size="13.4" transform="matrix(1 0 0 1.04 0 -17.704)">Log10 [Ab concentration (nM)]</text>
<path d="M899.91 389.76 L901.41 389.76 L902.91 389.76 L904.41 389.76 L905.92 389.76 L907.42 389.75 L908.92 389.75 L910.42 389.75 L911.92 389.75 L913.42 389.74 L914.93 389.74 L916.43 389.74 L917.93 389.73 L919.43 389.73 L920.93 389.73 L922.43 389.72 L923.94 389.71 L925.44 389.71 L926.94 389.7 L928.44 389.69 L929.94 389.68 L931.44 389.67 L932.94 389.66 L934.45 389.65 L935.95 389.63 L937.45 389.62 L938.95 389.6 L940.45 389.58 L941.95 389.56 L943.46 389.53 L944.96 389.5 L946.46 389.47 L947.96 389.43 L949.46 389.39 L950.96 389.35 L952.47 389.3 L953.97 389.24 L955.47 389.18 L956.97 389.1 L958.47 389.02 L959.97 388.94 L961.47 388.84 L962.98 388.72 L964.48 388.6 L965.98 388.46 L967.48 388.3 L968.98 388.13 L970.48 387.93 L971.99 387.72 L973.49 387.47 L974.99 387.2 L976.49 386.9 L977.99 386.56 L979.49 386.19 L981 385.77 L982.5 385.31 L984 384.79 L985.5 384.21 L987 383.57 L988.5 382.87 L990 382.08 L991.51 381.22 L993.01 380.26 L994.51 379.21 L996.01 378.05 L997.51 376.77 L999.01 375.37 L1000.52 373.84 L1002.02 372.18 L1003.52 370.36 L1005.02 368.4 L1006.52 366.27 L1008.02 363.99 L1009.53 361.53 L1011.03 358.91 L1012.53 356.12 L1014.03 353.17 L1015.53 350.06 L1017.03 346.8 L1018.54 343.4 L1020.04 339.88 L1021.54 336.26 L1023.04 332.54 L1024.54 328.77 L1026.04 324.95 L1027.54 321.11 L1029.05 317.28 L1030.55 313.48 L1032.05 309.74 L1033.55 306.07 L1035.05 302.5 L1036.55 299.05 L1038.06 295.73 L1039.56 292.56 L1041.06 289.54 L1042.56 286.68 L1044.06 283.98 L1045.56 281.46 L1047.07 279.1 L1048.57 276.9 L1050.07 274.87 L1051.57 272.99 L1053.07 271.26 L1054.57 269.68 L1056.07 268.22 L1057.58 266.9 L1059.08 265.69 L1060.58 264.59 L1062.08 263.59 L1063.58 262.69 L1065.08 261.87 L1066.59 261.13 L1068.09 260.46 L1069.59 259.86 L1071.09 259.32 L1072.59 258.83 L1074.09 258.39 L1075.6 258 L1077.1 257.65 L1078.6 257.33 L1080.1 257.05" stroke="#231f20" stroke-width="2" fill="none"/>
<circle cx="900.2" cy="387.4" r="3.5" fill="#231f20"/>
<circle cx="925.9" cy="387.4" r="3.5" fill="#231f20"/>
<circle cx="952" cy="387.4" r="3.5" fill="#231f20"/>
<circle cx="977.7" cy="387.5" r="3.5" fill="#231f20"/>
<circle cx="1003.3" cy="379.1" r="3.5" fill="#231f20"/>
<path d="M1029.7 298.8 V318.4 M1027.1 298.8 H1032.3 M1027.1 318.4 H1032.3" stroke="#231f20" stroke-width="1.8"/>
<circle cx="1029.7" cy="308.7" r="3.5" fill="#231f20"/>
<path d="M1055.5 259.9 V268.7 M1052.9 259.9 H1058.1 M1052.9 268.7 H1058.1" stroke="#231f20" stroke-width="1.8"/>
<circle cx="1055.5" cy="264.3" r="3.5" fill="#231f20"/>
<circle cx="1081" cy="265.1" r="3.5" fill="#231f20"/>
<text x="892.5" y="262.5" font-size="13.7">GD2017</text>
<text x="892.5" y="279.3" font-size="13.7">EC<tspan font-size="8.5" dy="4.6">50</tspan><tspan dy="-4.6">=6.61nM</tspan></text>
</g>
</svg>
</body></html>
